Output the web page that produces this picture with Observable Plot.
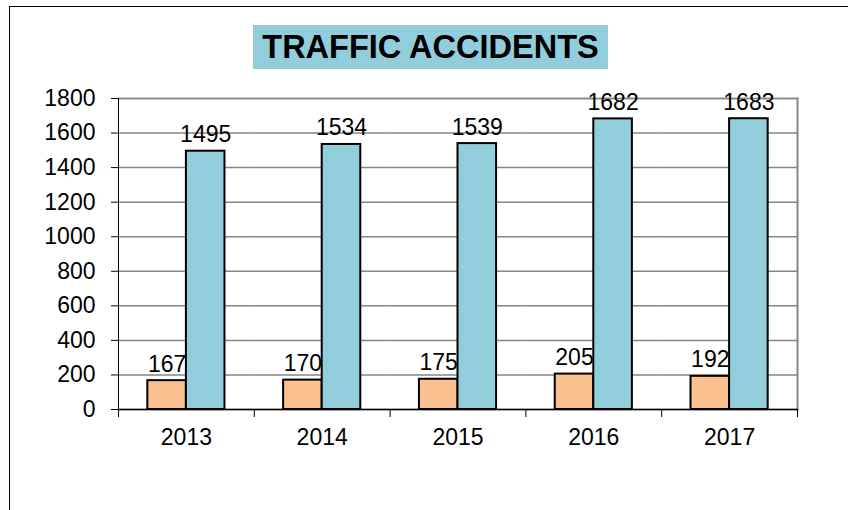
<!DOCTYPE html>
<html>
<head>
<meta charset="utf-8">
<script src="https://cdn.jsdelivr.net/npm/d3@7"></script>
<script src="https://cdn.jsdelivr.net/npm/@observablehq/plot@0.6"></script>
<style>
  html, body { margin: 0; padding: 0; background: #fff; }
  #page { position: relative; width: 848px; height: 510px; overflow: hidden; font-family: "Liberation Sans", Arial, sans-serif; }
  #border { position: absolute; left: 9px; top: 6px; width: 845px; height: 510px; border-top: 1.5px solid #000; border-left: 1.5px solid #000; box-sizing: border-box; }
  #title { position: absolute; left: 253px; top: 25px; width: 355px; height: 44px; background: #92CDDC; color: #000;
           font: bold 32.5px "Liberation Sans", Arial, sans-serif; line-height: 45px; text-align: center; white-space: nowrap; }
  #chart { position: absolute; left: 0; top: 78px; }
</style>
</head>
<body>
<div id="page">
  <div id="border"></div>
  <div id="title">TRAFFIC ACCIDENTS</div>
  <div id="chart"></div>
</div>
<script>
const years = ["2013", "2014", "2015", "2016", "2017"];
const seriesNames = ["Series 1", "Series 2"];
const series1 = [167, 170, 175, 205, 192];
const series2 = [1495, 1534, 1539, 1682, 1683];
const yTicks = [0, 200, 400, 600, 800, 1000, 1200, 1400, 1600, 1800];
const colors = ["#FAC090", "#92CDDC"];

const data = [];
years.forEach((yr, i) => {
  data.push({year: yr, series: seriesNames[0], value: series1[i]});
  data.push({year: yr, series: seriesNames[1], value: series2[i]});
});

const FS = 23;
const chart = Plot.plot({
  width: 848,
  height: 391,
  marginTop: 20,
  marginBottom: 60,
  marginLeft: 118,
  marginRight: 51,
  style: {fontFamily: '"Liberation Sans", Arial, sans-serif', fontSize: FS + "px", color: "#000", background: "transparent", overflow: "visible"},
  fx: {domain: years, padding: 0, round: false, label: null},
  x: {domain: seriesNames, paddingInner: 0, paddingOuter: 0.76, round: false, axis: null},
  y: {domain: [0, 1800], label: null},
  color: {domain: seriesNames, range: colors},
  marks: [
    Plot.gridY({ticks: yTicks, stroke: "#868686", strokeOpacity: 1, strokeWidth: 1.5}),
    Plot.frame({facet: "super", anchor: "top", stroke: "#868686", strokeWidth: 1.5}),
    Plot.frame({facet: "super", anchor: "right", stroke: "#868686", strokeWidth: 2}),
    Plot.barY(data, {fx: "year", x: "series", y: "value", fill: "series", stroke: "#000", strokeWidth: 2}),
    Plot.frame({facet: "super", anchor: "left", stroke: "#000", strokeWidth: 1}),
    Plot.frame({facet: "super", anchor: "bottom", stroke: "#000", strokeWidth: 1.5}),
    Plot.frame({anchor: "left", stroke: "#000", strokeWidth: 1, insetTop: 311, insetBottom: -7}),
    Plot.frame({facet: "super", anchor: "right", stroke: "#000", strokeWidth: 1, insetTop: 311, insetBottom: -7}),
    Plot.axisY({ticks: yTicks, tickSize: 7, tickPadding: 16, tickFormat: d => String(d), fontSize: FS, label: null}),
    Plot.axisFx({anchor: "bottom", tickSize: 0, tickPadding: 19, fontSize: FS, label: null}),
    Plot.text(data, {fx: "year", x: "series", y: "value", text: d => String(d.value), lineAnchor: "bottom", dy: -9, fontSize: FS, fill: "#000"})
  ]
});
document.getElementById("chart").appendChild(chart);
</script>
</body>
</html>
